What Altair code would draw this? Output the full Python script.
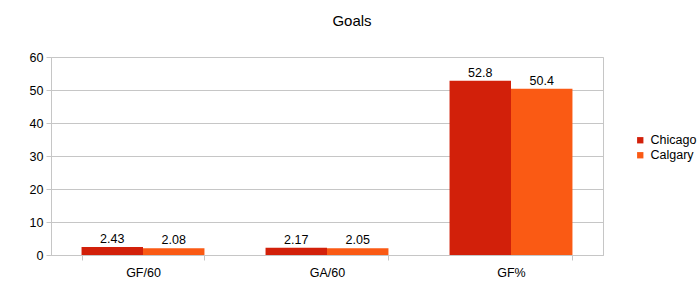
import altair as alt
import pandas as pd

categories = ["GF/60", "GA/60", "GF%"]
teams = ["Chicago", "Calgary"]
chicago = [2.43, 2.17, 52.8]
calgary = [2.08, 2.05, 50.4]
colors = ["#d2200a", "#fa5a14"]
y_ticks = [0, 10, 20, 30, 40, 50, 60]

rows = []
for i, c in enumerate(categories):
    rows.append({"cat": c, "team": "Chicago", "value": chicago[i], "label": str(chicago[i])})
    rows.append({"cat": c, "team": "Calgary", "value": calgary[i], "label": str(calgary[i])})
df = pd.DataFrame(rows)

FONT = "Liberation Sans"
GRID = "#c6c6c6"

x = alt.X("cat:N", sort=categories, title=None,
          scale=alt.Scale(paddingInner=0.332, paddingOuter=0.166),
          axis=alt.Axis(labelAngle=0, tickBand="extent", domainColor=GRID, tickColor=GRID,
                        labelFontSize=12.5, labelPadding=6, tickSize=5, labelColor="black",
                        labelFont=FONT))
xo = alt.XOffset("team:N", sort=teams, scale=alt.Scale(paddingInner=0, paddingOuter=0))
y = alt.Y("value:Q", scale=alt.Scale(domain=[0, 60], nice=False),
          axis=alt.Axis(values=y_ticks, title=None, gridColor=GRID, domainColor=GRID,
                        tickColor=GRID, tickSize=5, labelPadding=3, labelFontSize=12.5,
                        labelColor="black", labelFont=FONT))
color = alt.Color("team:N", sort=teams, scale=alt.Scale(domain=teams, range=colors),
                  legend=alt.Legend(title=None, orient="none", legendX=583, legendY=77,
                                    symbolType="square", symbolSize=40, labelFontSize=12.5,
                                    labelFont=FONT, labelColor="black", rowPadding=2,
                                    symbolStrokeWidth=0))

base = alt.Chart(df).encode(x=x, xOffset=xo, y=y)
bars = base.mark_bar(strokeWidth=0).encode(color=color)
labels = base.mark_text(dy=-8, fontSize=12.5, font=FONT, color="black").encode(text="label:N")

chart = (bars + labels).properties(
    width=552, height=198,
    title=alt.TitleParams("Goals", fontSize=15, font=FONT, fontWeight="normal",
                          color="black", anchor="middle", dx=25, offset=22),
    padding={"left": 51, "top": 57, "right": 94, "bottom": 37},
    autosize=alt.AutoSizeParams(type="none"),
).configure_view(stroke=GRID, strokeWidth=1)

chart.save("out.html", embed_options={"renderer": "svg", "actions": False})
